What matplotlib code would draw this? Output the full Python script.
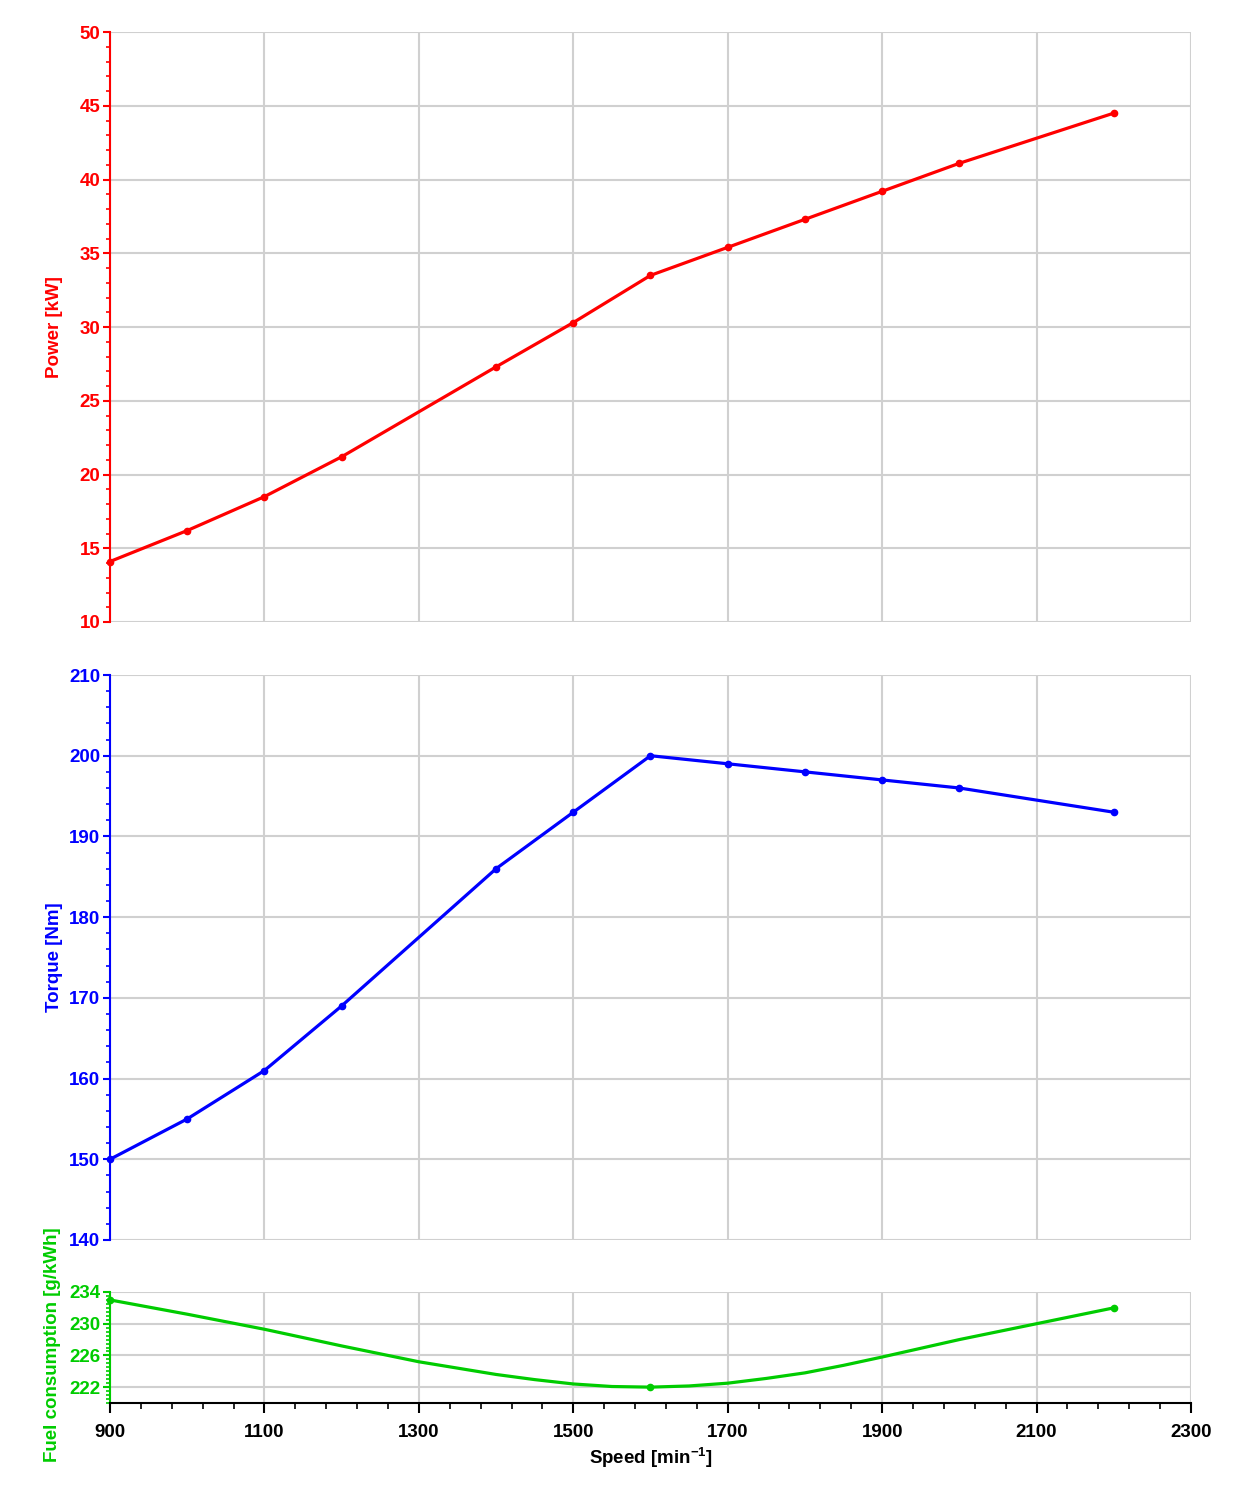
import numpy as np
import matplotlib.pyplot as plt
from matplotlib.ticker import MultipleLocator

plt.rcParams['font.family'] = ['Liberation Sans', 'DejaVu Sans']
plt.rcParams['font.size'] = 13.5
plt.rcParams['font.weight'] = 'bold'
plt.rcParams['axes.labelweight'] = 'bold'
plt.rcParams['mathtext.fontset'] = 'custom'
plt.rcParams['mathtext.rm'] = 'Liberation Sans:bold'
plt.rcParams['mathtext.bf'] = 'Liberation Sans:bold'
plt.rcParams['mathtext.default'] = 'bf'

#engine speed points [min^-1]
speed = [900, 1000, 1100, 1200, 1400, 1500, 1600, 1700, 1800, 1900, 2000, 2200]
power_kw = [14.1, 16.2, 18.5, 21.2, 27.3, 30.3, 33.5, 35.4, 37.3, 39.2, 41.1, 44.5]
torque_nm = [150, 155, 161, 169, 186, 193, 200, 199, 198, 197, 196, 193]

fuel_speed = [900, 1000, 1100, 1200, 1300, 1400, 1450, 1500, 1550, 1600, 1650, 1700,
              1750, 1800, 1850, 1900, 2000, 2100, 2200]
fuel_gkwh = [233.0, 231.2, 229.3, 227.2, 225.2, 223.6, 222.95, 222.4, 222.08, 222.0,
             222.15, 222.5, 223.1, 223.8, 224.75, 225.8, 228.0, 230.0, 232.0]
fuel_marked = [0, 9, 18]

RED = '#ff0000'
BLUE = '#0000ff'
GREEN = '#00cc00'
GRID = '#d0d0d0'
FS = 13.5

fig = plt.figure(figsize=(12.34, 14.99), dpi=100)
left = 110/1234
width = 1081/1234
ax_p = fig.add_axes([left, 1 - 622/1499, width, 590/1499])
ax_t = fig.add_axes([left, 1 - 1240/1499, width, 565/1499])
ax_f = fig.add_axes([left, 1 - 1403/1499, width, 111/1499])


def style_axis(ax, color, label, ylim, major, minor, bottom_axis=False, yticks=None):
    ax.set_xlim(900, 2300)
    ax.set_ylim(*ylim)
    ax.set_xticks(np.arange(900, 2301, 200))
    ax.set_xticks(np.arange(900, 2301, 40), minor=True)
    if yticks is not None:
        ax.set_yticks(yticks)
    else:
        ax.yaxis.set_major_locator(MultipleLocator(major))
    ax.yaxis.set_minor_locator(MultipleLocator(minor))
    ax.grid(True, which='major', color=GRID, linewidth=1.5)
    ax.set_axisbelow(True)
    for s in ['top', 'right']:
        ax.spines[s].set_visible(False)
    ax.spines['left'].set_color(color)
    ax.spines['left'].set_linewidth(1.5)
    ax.tick_params(axis='y', which='major', colors=color, length=5, width=1.5, pad=2,
                   labelsize=FS)
    ax.tick_params(axis='y', which='minor', colors=color, length=3, width=1.2)
    if label:
        ax.set_ylabel(label, color=color, fontsize=FS)
        ax.yaxis.set_label_coords(-47/1081, 0.5)
    if bottom_axis:
        ax.spines['bottom'].set_color('black')
        ax.spines['bottom'].set_linewidth(1.5)
        ax.tick_params(axis='x', which='major', length=7, width=1.5, pad=8, labelsize=FS)
        ax.tick_params(axis='x', which='minor', length=4, width=1.2)
    else:
        ax.spines['bottom'].set_visible(False)
        ax.tick_params(axis='x', which='both', length=0, labelbottom=False)


style_axis(ax_p, RED, 'Power [kW]', (10, 50), 5, 1)
ax_p.plot(speed, power_kw, color=RED, linewidth=2.3, marker='o', markersize=4.5,
          clip_on=False)

style_axis(ax_t, BLUE, 'Torque [Nm]', (140, 210), 10, 2)
ax_t.plot(speed, torque_nm, color=BLUE, linewidth=2.3, marker='o', markersize=4.5,
          clip_on=False)

style_axis(ax_f, GREEN, None, (220, 234), 4, 0.5,
           bottom_axis=True, yticks=[222, 226, 230, 234])
ax_f.plot(fuel_speed, fuel_gkwh, color=GREEN, linewidth=2.3, marker='o', markersize=4.5,
          markevery=fuel_marked, clip_on=False)
ax_f.set_xlabel('Speed [min$^{-1}$]', fontsize=FS, labelpad=4)
fig.text(53/1234, 1 - 1345/1499, 'Fuel consumption [g/kWh]', color=GREEN, fontsize=FS,
         rotation=90, ha='center', va='center')

fig.savefig('out.png', dpi=100)
